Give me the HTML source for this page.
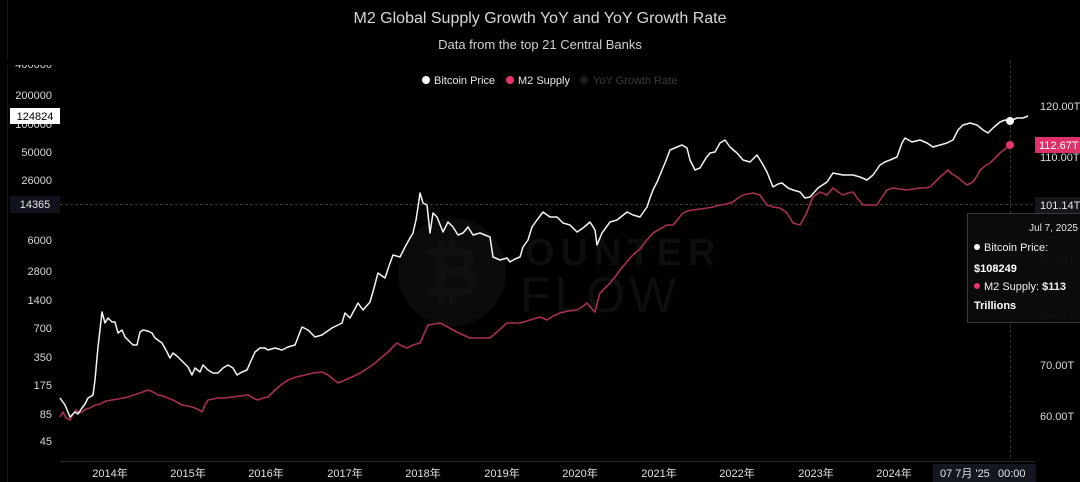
<!DOCTYPE html>
<html>
<head>
<meta charset="utf-8">
<style>
html,body{margin:0;padding:0;background:#000;}
body{width:1080px;height:482px;overflow:hidden;position:relative;font-family:"Liberation Sans","Noto Sans CJK SC",sans-serif;}
svg{position:absolute;left:0;top:0;}
</style>
</head>
<body>
<svg width="1080" height="482" viewBox="0 0 1080 482" xmlns="http://www.w3.org/2000/svg" font-family="Liberation Sans, Noto Sans CJK SC, sans-serif">
  <rect x="0" y="0" width="1080" height="482" fill="#000"/>
  <line x1="7.5" y1="0" x2="7.5" y2="482" stroke="#161616" stroke-width="1"/>

  <!-- watermark -->
  <g>
    <circle cx="452" cy="272" r="54" fill="#0b0b0b"/>
    <text x="452" y="296" font-size="70" font-weight="bold" fill="#101010" text-anchor="middle">₿</text>
    <text x="525" y="265" font-size="38" font-weight="bold" fill="#0e0e0e" letter-spacing="6">OUNTER</text>
    <text x="520" y="312" font-size="50" fill="#0e0e0e" letter-spacing="4">FLOW</text>
  </g>

  <text x="540" y="23" font-size="16" fill="#d8d8d8" text-anchor="middle">M2 Global Supply Growth YoY and YoY Growth Rate</text>
  <text x="540" y="49" font-size="13" fill="#d0d0d0" text-anchor="middle">Data from the top 21 Central Banks</text>

  <circle cx="426" cy="80" r="4" fill="#ffffff"/>
  <text x="434" y="84" font-size="11" fill="#e8e8e8">Bitcoin Price</text>
  <circle cx="510" cy="80" r="4" fill="#e8336b"/>
  <text x="518" y="84" font-size="11" fill="#e8e8e8">M2 Supply</text>
  <circle cx="584" cy="80" r="4" fill="#1c1c1c"/>
  <text x="593" y="84" font-size="11" fill="#3a3a3a">YoY Growth Rate</text>

  <g font-size="11" fill="#d8d8d8" text-anchor="end">
    <text x="52" y="68">400000</text>
    <text x="52" y="99">200000</text>
    <text x="52" y="128">100000</text>
    <text x="52" y="156">50000</text>
    <text x="52" y="184">26000</text>
    <text x="52" y="244">6000</text>
    <text x="52" y="275">2800</text>
    <text x="52" y="304">1400</text>
    <text x="52" y="332">700</text>
    <text x="52" y="361">350</text>
    <text x="52" y="389">175</text>
    <text x="52" y="418">85</text>
    <text x="52" y="445">45</text>
  </g>
  <rect x="0" y="60" width="60" height="5" fill="#000"/>
  <rect x="10" y="108" width="50" height="16" fill="#ffffff"/>
  <text x="35" y="120" font-size="11" fill="#000" text-anchor="middle">124824</text>
  <rect x="10" y="196" width="50" height="17" fill="#10121c"/>
  <text x="35" y="208" font-size="11" fill="#e8e8e8" text-anchor="middle">14365</text>

  <g font-size="11" fill="#d8d8d8">
    <text x="1040" y="110">120.00T</text>
    <text x="1040" y="161">110.00T</text>
    <text x="1040" y="264" fill="#555">90.00T</text>
    <text x="1040" y="317" fill="#555">80.00T</text>
    <text x="1040" y="369">70.00T</text>
    <text x="1040" y="420">60.00T</text>
  </g>
  <rect x="1035" y="137" width="45" height="16" fill="#e0306a"/>
  <text x="1039" y="149" font-size="11" fill="#fff">112.67T</text>
  <rect x="1035" y="197" width="45" height="16" fill="#14161c"/>
  <text x="1040" y="209" font-size="11" fill="#e8e8e8">101.14T</text>

  <line x1="60" y1="204.5" x2="1035" y2="204.5" stroke="#3a3a3a" stroke-width="1" stroke-dasharray="3,2"/>
  <line x1="1010.5" y1="60" x2="1010.5" y2="460" stroke="#2e2e2e" stroke-width="1" stroke-dasharray="3,2"/>

  <line x1="60" y1="461.5" x2="1035" y2="461.5" stroke="#2a2a2a" stroke-width="1"/>
  <g font-size="11" fill="#e0e0e0" text-anchor="middle">
    <text x="110" y="477">2014年</text>
    <text x="188" y="477">2015年</text>
    <text x="266" y="477">2016年</text>
    <text x="345" y="477">2017年</text>
    <text x="423" y="477">2018年</text>
    <text x="502" y="477">2019年</text>
    <text x="580" y="477">2020年</text>
    <text x="659" y="477">2021年</text>
    <text x="737" y="477">2022年</text>
    <text x="816" y="477">2023年</text>
    <text x="894" y="477">2024年</text>
  </g>
  <rect x="933" y="464" width="103" height="18" fill="#141720"/>
  <text x="940" y="477" font-size="11" fill="#e0e0e0">07 7月 '25</text>
  <text x="998" y="477" font-size="11" fill="#e0e0e0">00:00</text>

  <polyline fill="none" stroke="#a8304f" stroke-width="1.6" stroke-linejoin="round" points="60,417 63,412 66,418 70,420 73,414 76,410 79,413 82,412 86,409 90,408 95,405 100,404 106,401 112,400 118,399 123,398 128,397 134,395 140,393 148,390 153,392 158,395 163,396 168,398 175,401 182,405 188,406 195,408 199,410 202,412 205,405 208,400 213,399 218,398 225,398 232,397 240,396 248,395 253,398 258,400 263,398 268,397 272,393 275,390 281,385 288,380 296,377 305,375 313,373 322,372 328,375 333,379 338,383 345,380 352,377 362,372 368,368 375,363 382,357 388,352 393,347 397,343 402,346 407,348 413,345 420,343 424,334 428,325 434,324 440,323 446,326 453,330 461,334 470,338 480,338 490,338 498,331 507,323 513,323 520,323 530,320 540,317 547,320 553,316 560,313 568,311 577,310 582,307 587,303 592,309 595,312 598,300 600,293 605,288 610,283 615,277 620,270 625,264 630,258 635,253 640,249 646,241 653,233 660,229 667,225 673,225 678,219 683,213 688,211 693,210 700,209 707,208 713,207 720,205 727,204 733,202 738,198 743,195 748,194 753,193 760,195 764,201 767,205 773,207 780,208 787,213 790,218 793,223 800,225 804,218 807,212 810,204 813,197 820,192 827,195 833,188 838,192 843,195 848,193 853,192 858,199 863,205 870,205 877,205 882,197 887,190 893,188 900,189 907,190 913,189 920,188 925,188 930,187 935,182 940,177 948,170 952,174 957,177 962,181 967,185 973,182 977,176 980,170 985,166 990,163 995,158 1000,153 1005,149 1010,145"/>

  <polyline fill="none" stroke="#f4f4f4" stroke-width="1.5" stroke-linejoin="round" points="60,398 65,405 70,417 75,412 78,414 82,408 85,404 88,398 90,397 93,395 95,380 98,347 102,312 105,323 108,318 112,322 115,322 118,333 122,330 125,337 130,342 133,345 137,345 140,332 143,330 148,331 152,333 155,338 162,343 167,352 170,358 173,353 178,357 183,362 188,367 192,375 195,368 200,372 203,365 208,370 213,373 218,373 223,368 228,365 233,368 237,375 242,372 247,370 250,363 255,352 260,348 265,348 268,350 275,348 282,350 288,347 295,345 302,327 308,330 315,337 322,335 332,328 342,323 345,313 350,318 358,303 363,310 370,302 374,288 378,273 385,278 389,266 393,255 400,257 405,247 410,238 413,233 416,220 418,207 420,193 423,203 427,205 430,233 433,213 437,217 443,232 448,222 453,227 458,235 463,233 468,227 473,235 480,233 485,235 490,237 493,257 500,260 507,258 510,262 515,259 520,257 523,247 528,240 532,227 537,220 543,212 550,217 557,217 563,223 570,225 577,232 583,228 590,222 595,230 597,245 602,233 610,222 617,220 622,216 627,212 633,215 640,217 647,207 650,198 653,190 658,180 662,170 665,163 670,150 677,147 682,145 687,148 690,160 695,170 700,168 703,163 706,158 710,153 715,152 720,143 725,140 730,147 737,153 743,160 750,162 757,155 762,163 767,172 773,187 778,184 782,183 788,188 793,190 800,192 805,198 810,197 818,188 827,182 833,173 838,174 843,175 853,175 860,177 867,180 873,175 880,165 885,162 890,160 897,157 902,143 905,138 912,142 920,140 927,143 933,147 940,145 947,143 953,140 958,130 963,125 970,123 977,125 983,130 988,133 993,128 1000,122 1005,120 1010,121 1017,118 1023,118 1028,116"/>

  <circle cx="1010" cy="121" r="4" fill="#ffffff"/>
  <circle cx="1010" cy="145" r="4" fill="#e8336b"/>

  <rect x="967.5" y="213.5" width="120" height="109" fill="#0c0c0c" fill-opacity="0.92" stroke="#3a3a3a" stroke-width="1"/>
  <text x="1078" y="231" font-size="10" fill="#e0e0e0" text-anchor="end">Jul 7, 2025</text>
  <circle cx="977" cy="247" r="3" fill="#ffffff"/>
  <text x="984" y="251" font-size="11" fill="#f0f0f0">Bitcoin Price:</text>
  <text x="974" y="272" font-size="11" fill="#ffffff" font-weight="bold">$108249</text>
  <circle cx="977" cy="286" r="3" fill="#e8336b"/>
  <text x="984" y="290" font-size="11" fill="#f0f0f0">M2 Supply: <tspan font-weight="bold">$113</tspan></text>
  <text x="974" y="309" font-size="11" fill="#ffffff" font-weight="bold">Trillions</text>
</svg>
</body>
</html>
